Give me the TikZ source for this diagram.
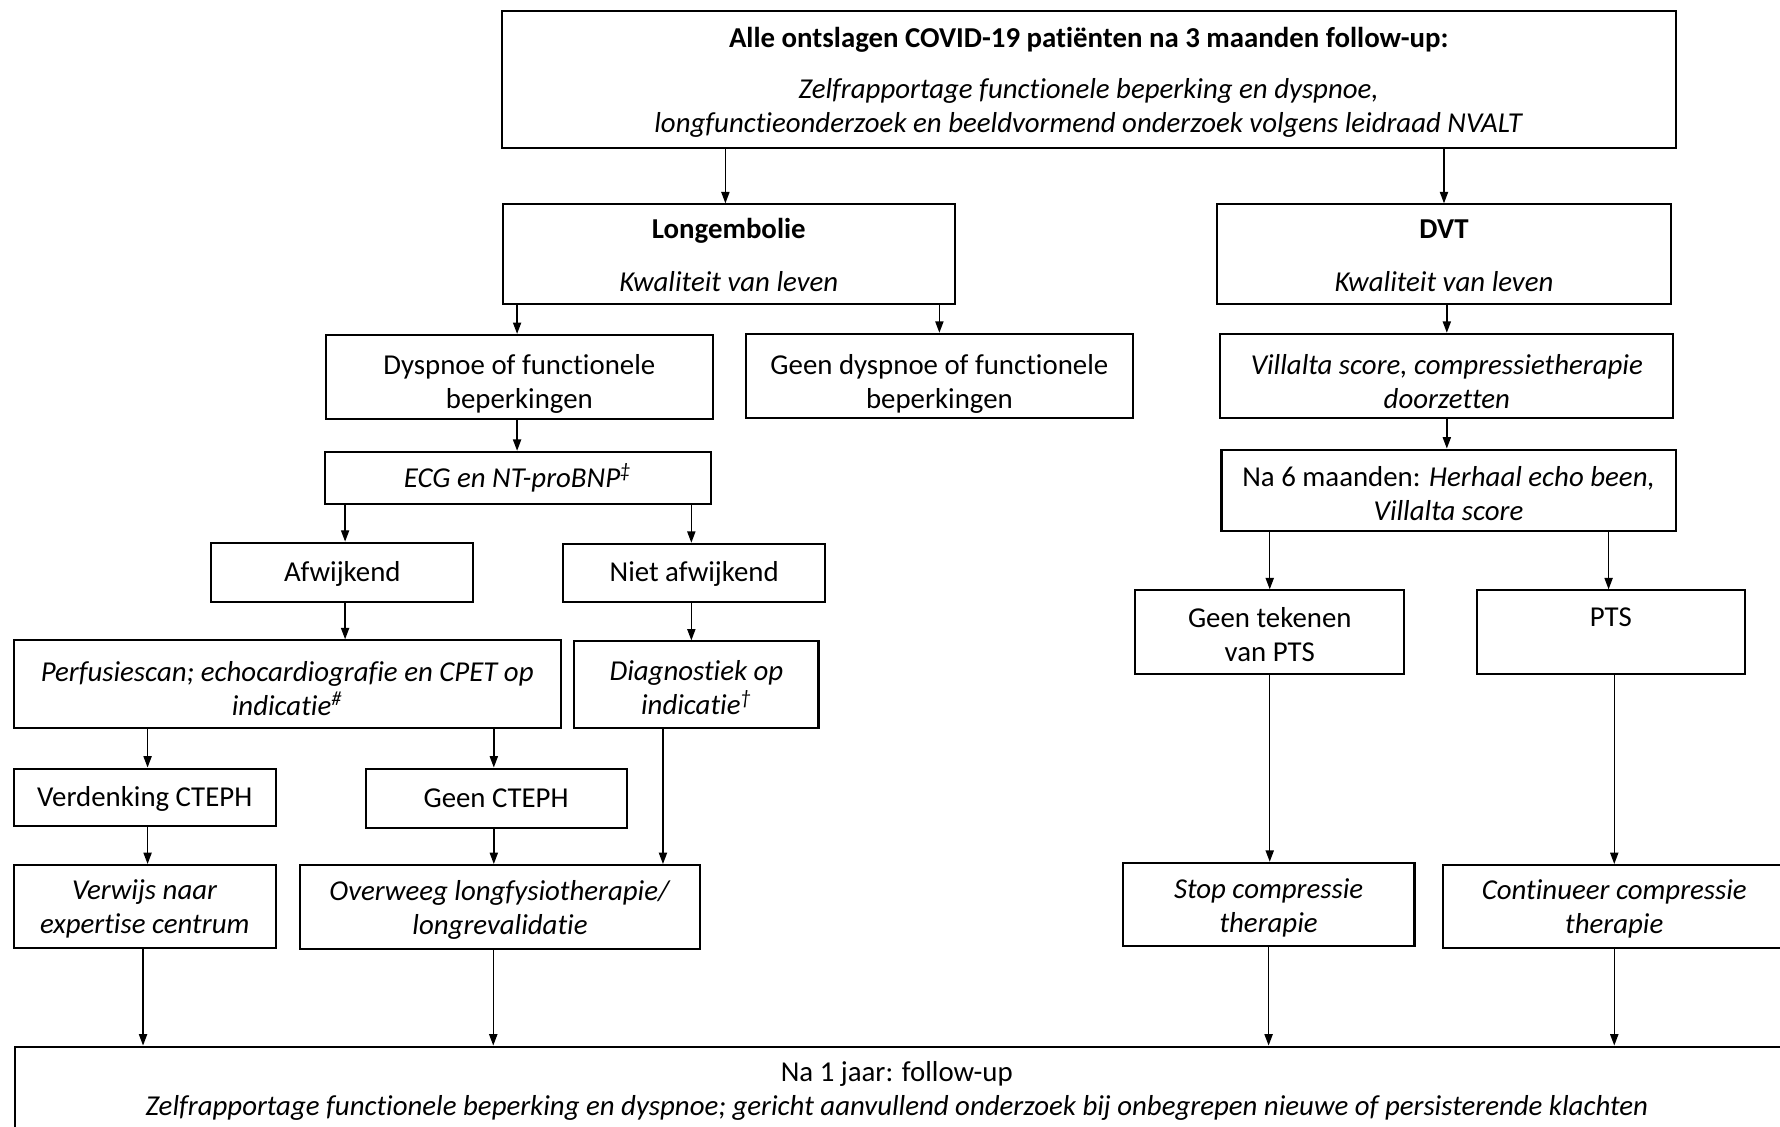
\documentclass[tikz,border=0pt]{standalone}
\usepackage{fontspec}
\setmainfont{Carlito}[Ligatures=NoCommon]
\usepackage{tikz}
\usetikzlibrary{arrows.meta}
\def\flowpad{11.5pt}
\tikzset{
    toppad/.code={\def\flowpad{#1}},
    flowbox/.style={draw, line width=0.9pt, align=center, inner xsep=2pt, inner ysep=0pt,
        font=\fontsize{12.7}{15}\selectfont,
        execute at begin node={\rule{0pt}{\flowpad}},
        execute at end node={\rule[-3.5pt]{0pt}{3.5pt}}},
    flowtext/.style={align=center, inner sep=0pt, font=\fontsize{12.7}{15}\selectfont},
    flowarrow/.style={-{Triangle[length=5pt,width=3.6pt]}, line width=0.6pt}
}

\begin{document}
\begin{tikzpicture}[x=0.5pt, y=-0.5pt]

    % Page size and clipping of the cut-off boxes
    \useasboundingbox (0,0) rectangle (1568,992);
    \clip (0,0) rectangle (1568,992);

    % Top box
    \node[flowbox, toppad=50pt, minimum width=517pt, minimum height=60pt] (start) at (959,70)
        {\textbf{Alle ontslagen COVID-19 patiënten na 3 maanden follow-up:}\\[7.5pt]
         \textit{Zelfrapportage functionele beperking en dyspnoe,}\\
         \textit{longfunctieonderzoek en beeldvormend onderzoek volgens leidraad NVALT}};

    % Two branches
    \node[flowbox, toppad=36pt, minimum width=199pt, minimum height=44pt] (lemb) at (642,224)
        {\textbf{Longembolie}\\[8pt] \textit{Kwaliteit van leven}};
    \node[flowbox, toppad=36pt, minimum width=200pt, minimum height=44pt] (dvt) at (1272,224)
        {\textbf{DVT}\\[8pt] \textit{Kwaliteit van leven}};

    % Longembolie branch
    \node[flowbox, toppad=31.3pt, minimum width=170.5pt, minimum height=37pt] (dysp) at (457.5,332)
        {Dyspnoe of functionele\\ beperkingen};
    \node[flowbox, toppad=32pt, minimum width=170.5pt, minimum height=37pt] (geendysp) at (827.5,331)
        {Geen dyspnoe of functionele\\ beperkingen};
    \node[flowbox, minimum width=170pt, minimum height=23pt] (ecg) at (456,421)
        {\textit{ECG en NT-proBNP\textsuperscript{‡}}};
    \node[flowbox, minimum width=115.5pt, minimum height=26pt] (afw) at (301.5,504)
        {Afwijkend};
    \node[flowbox, minimum width=115.5pt, minimum height=25.5pt] (nietafw) at (611.5,504.5)
        {Niet afwijkend};
    \node[flowbox, toppad=31.3pt, minimum width=241pt, minimum height=38.5pt] (perf) at (253,602.5)
        {\textit{Perfusiescan; echocardiografie en CPET op}\\ \textit{indicatie\textsuperscript{\#}}};
    \node[flowbox, toppad=30pt, minimum width=107.5pt, minimum height=38pt] (diag) at (613.5,603)
        {\textit{Diagnostiek op}\\ \textit{indicatie\textsuperscript{†}}};
    \node[flowbox, minimum width=115.5pt, minimum height=25.5pt] (verd) at (127.5,702.5)
        {Verdenking CTEPH};
    \node[flowbox, minimum width=115pt, minimum height=26pt] (geencteph) at (437,703)
        {Geen CTEPH};
    \node[flowbox, toppad=27.5pt, minimum width=115.5pt, minimum height=36.5pt] (verwijs) at (127.5,798.5)
        {\textit{Verwijs naar}\\ \textit{expertise centrum}};
    \node[flowbox, toppad=27.5pt, minimum width=176.5pt, minimum height=37pt] (overweeg) at (440.5,799)
        {\textit{Overweeg longfysiotherapie/}\\ \textit{longrevalidatie}};

    % DVT branch
    \node[flowbox, toppad=32pt, minimum width=199.5pt, minimum height=37pt] (villalta) at (1274.5,331)
        {\textit{Villalta score, compressietherapie}\\ \textit{doorzetten}};
    \node[flowbox, toppad=30.3pt, minimum width=200pt, minimum height=36pt] (nazes) at (1276,432)
        {Na 6 maanden: \textit{Herhaal echo been,}\\ \textit{Villalta score}};
    \node[flowbox, toppad=29.3pt, minimum width=118.5pt, minimum height=37pt] (geentek) at (1118.5,557)
        {Geen tekenen\\ van PTS};
    \node[flowbox, toppad=28pt, minimum width=118pt, minimum height=37pt] (pts) at (1419,557)
        {PTS\\ \mbox{}};
    \node[flowbox, toppad=28.3pt, minimum width=128.5pt, minimum height=36.5pt] (stop) at (1117.5,796.5)
        {\textit{Stop compressie}\\ \textit{therapie}};
    \node[flowbox, toppad=27.5pt, minimum width=151pt, minimum height=36.5pt] (cont) at (1422,798.5)
        {\textit{Continueer compressie}\\ \textit{therapie}};

    % Bottom box (runs off the page)
    \node[flowbox, anchor=north west, minimum width=800pt, minimum height=50pt] (follow) at (12,921) {};
    \node[flowtext] (followtxt) at (790,961)
        {Na 1 jaar: follow-up\\
         \textit{Zelfrapportage functionele beperking en dyspnoe; gericht aanvullend onderzoek bij onbegrepen nieuwe of persisterende klachten}};

    % Arrows
    \draw[flowarrow] ([xshift=-1.5pt]lemb.north |- start.south) -- ([xshift=-1.5pt]lemb.north);
    \draw[flowarrow] (dvt.north |- start.south) -- (dvt.north);
    \draw[flowarrow] ([xshift=-1pt]dysp.north |- lemb.south) -- ([xshift=-1pt]dysp.north);
    \draw[flowarrow] (geendysp.north |- lemb.south) -- (geendysp.north);
    \draw[flowarrow] ([xshift=-1pt]dysp.south) -- ([xshift=-1pt]dysp.south |- ecg.north);
    \draw[flowarrow] ([xshift=1.25pt]afw.north |- ecg.south) -- ([xshift=1.25pt]afw.north);
    \draw[flowarrow] ([xshift=-1.25pt]nietafw.north |- ecg.south) -- ([xshift=-1.25pt]nietafw.north);
    \draw[flowarrow] ([xshift=1.25pt]afw.south) -- ([xshift=1.25pt]afw.south |- perf.north);
    \draw[flowarrow] ([xshift=-1.25pt]nietafw.south) -- ([xshift=-1.25pt]nietafw.south |- diag.north);
    \draw[flowarrow] ([xshift=1.25pt]verd.north |- perf.south) -- ([xshift=1.25pt]verd.north);
    \draw[flowarrow] ([xshift=-1pt]geencteph.north |- perf.south) -- ([xshift=-1pt]geencteph.north);
    \draw[flowarrow] ([xshift=1.25pt]verd.south) -- ([xshift=1.25pt]verd.south |- verwijs.north);
    \draw[flowarrow] ([xshift=-1pt]geencteph.south) -- ([xshift=-1pt]geencteph.south |- overweeg.north);
    \draw[flowarrow] ([xshift=-14.75pt]diag.south) -- ([xshift=-14.75pt]diag.south |- overweeg.north);
    \draw[flowarrow] ([xshift=-0.75pt]verwijs.south) -- ([xshift=-0.75pt]verwijs.south |- follow.north);
    \draw[flowarrow] ([xshift=-3pt]overweeg.south) -- ([xshift=-3pt]overweeg.south |- follow.north);

    \draw[flowarrow] (villalta.north |- dvt.south) -- (villalta.north);
    \draw[flowarrow] (villalta.south) -- (villalta.south |- nazes.north);
    \draw[flowarrow] (geentek.north |- nazes.south) -- (geentek.north);
    \draw[flowarrow] ([xshift=-1pt]pts.north |- nazes.south) -- ([xshift=-1pt]pts.north);
    \draw[flowarrow] (geentek.south) -- (geentek.south |- stop.north);
    \draw[flowarrow] ([xshift=1.5pt]pts.south) -- ([xshift=1.5pt]pts.south |- cont.north);
    \draw[flowarrow] (stop.south) -- (stop.south |- follow.north);
    \draw[flowarrow] (cont.south) -- (cont.south |- follow.north);

\end{tikzpicture}
\end{document}
